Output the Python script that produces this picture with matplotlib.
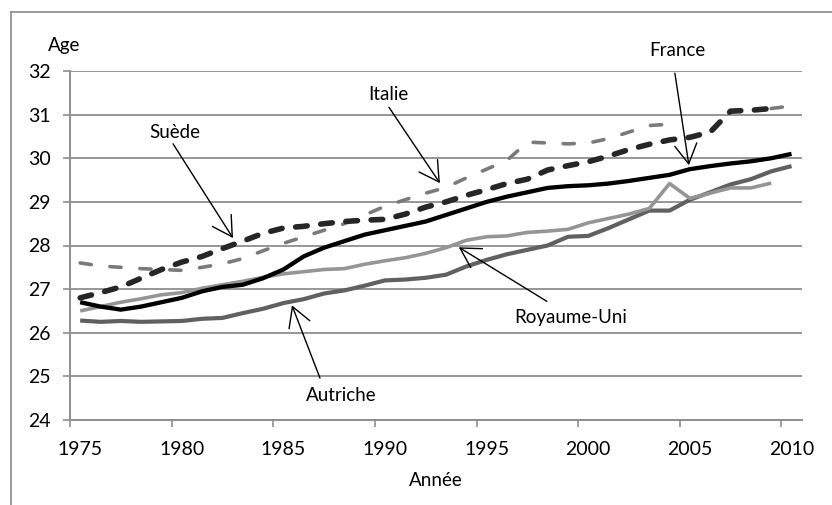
import matplotlib
matplotlib.use("Agg")
import matplotlib.pyplot as plt
import numpy as np
from matplotlib.lines import Line2D

# ── Data (mean age of mothers at birth) ──
YEARS = list(range(1975, 2011))

FRANCE = [26.70, 26.60, 26.53, 26.60, 26.70, 26.80, 26.95, 27.05, 27.10, 27.25,
          27.45, 27.75, 27.95, 28.10, 28.25, 28.35, 28.45, 28.55, 28.70, 28.85,
          29.00, 29.12, 29.22, 29.32, 29.36, 29.38, 29.42, 29.48, 29.55, 29.62,
          29.75, 29.82, 29.88, 29.93, 30.00, 30.10]

SUEDE = [26.80, 26.92, 27.05, 27.25, 27.45, 27.62, 27.75, 27.93, 28.10, 28.28,
         28.40, 28.44, 28.50, 28.55, 28.58, 28.60, 28.72, 28.88, 29.00, 29.15,
         29.28, 29.42, 29.52, 29.73, 29.83, 29.92, 30.05, 30.20, 30.32, 30.42,
         30.48, 30.60, 31.08, 31.10, 31.14, np.nan]

ITALIE = [27.60, 27.53, 27.50, 27.47, 27.45, 27.43, 27.50, 27.58, 27.70, 27.88,
          28.05, 28.20, 28.35, 28.50, 28.70, 28.90, 29.05, 29.20, 29.33, 29.55,
          29.75, 29.95, 30.37, 30.35, 30.33, 30.35, 30.45, 30.60, 30.75, 30.78,
          np.nan, np.nan, np.nan, np.nan, 31.14, 31.20]

ROYAUME_UNI = [26.50, 26.60, 26.70, 26.78, 26.87, 26.92, 27.02, 27.10, 27.18, 27.27,
               27.35, 27.40, 27.45, 27.47, 27.57, 27.65, 27.72, 27.82, 27.95, 28.12,
               28.20, 28.22, 28.30, 28.33, 28.37, 28.52, 28.62, 28.72, 28.85, 29.42,
               29.08, 29.20, 29.32, 29.32, 29.43, np.nan]

AUTRICHE = [26.28, 26.25, 26.27, 26.25, 26.26, 26.27, 26.32, 26.34, 26.45, 26.55,
            26.68, 26.77, 26.90, 26.97, 27.08, 27.20, 27.22, 27.26, 27.33, 27.52,
            27.67, 27.80, 27.90, 28.00, 28.20, 28.22, 28.40, 28.60, 28.80, 28.80,
            29.05, 29.22, 29.40, 29.52, 29.70, 29.82]

Y_TICKS = [24, 25, 26, 27, 28, 29, 30, 31, 32]
X_TICKS = [1975, 1980, 1985, 1990, 1995, 2000, 2005, 2010]

# label text, text position, arrow start, arrow tip
LABELS = [
    ("Suède", (1980.16, 30.58), (1980.07, 30.33), (1983.02, 28.17)),
    ("Italie", (1990.64, 31.47), (1990.69, 31.17), (1993.20, 29.43)),
    ("France", (2004.86, 32.48), (2004.76, 31.95), (2005.45, 29.84)),
    ("Royaume-Uni", (1999.64, 26.36), (1998.46, 26.72), (1994.13, 27.96)),
    ("Autriche", (1988.35, 24.57), (1987.30, 24.96), (1985.92, 26.63)),
]

# ── Style ──
plt.rcParams["font.family"] = ["Lato", "DejaVu Sans"]
TICK_SIZE = 14
LABEL_SIZE = 13.5
GRID_COLOR = "#8e8e8e"
CAT_OFFSET = 0.5  # Excel category axis: points and labels sit mid-category

fig = plt.figure(figsize=(8.32, 5.05), dpi=100)
ax = fig.add_axes([70 / 832, 1 - 420 / 505, (801.7 - 70) / 832, (420 - 71) / 505])

x = np.array(YEARS) + CAT_OFFSET

ax.plot(x, AUTRICHE, color="#606060", lw=3.0, solid_capstyle="butt", zorder=3)
ax.plot(x, ROYAUME_UNI, color="#959595", lw=2.6, solid_capstyle="butt", zorder=3)
ax.plot(x, ITALIE, color="#7a7a7a", lw=2.6, linestyle=(0, (3.1, 5.2)),
        dash_capstyle="round", zorder=3)
ax.plot(x, FRANCE, color="#000000", lw=3.1, solid_capstyle="butt", zorder=4)
ax.plot(x, SUEDE, color="#262626", lw=4.0, linestyle=(0, (2.1, 2.45)),
        dash_capstyle="round", zorder=5)

ax.set_xlim(1975, 2011)
ax.set_ylim(24, 32)
ax.set_yticks(Y_TICKS)
# tick marks on the category boundaries, labels centred on the category
ax.set_xticks(X_TICKS)
ax.set_xticklabels([])
ax.set_xticks(np.array(X_TICKS) + CAT_OFFSET, minor=True)
ax.set_xticklabels([str(y) for y in X_TICKS], minor=True)
ax.tick_params(axis="y", length=5, width=1.2, color=GRID_COLOR, pad=9,
               labelsize=TICK_SIZE)
ax.tick_params(axis="x", which="major", length=5, width=1.2, color=GRID_COLOR)
ax.tick_params(axis="x", which="minor", length=0, pad=15, labelsize=TICK_SIZE)
ax.grid(axis="y", color=GRID_COLOR, lw=1.3)
ax.set_axisbelow(True)
for side in ("top", "right"):
    ax.spines[side].set_visible(False)
for side in ("left", "bottom"):
    ax.spines[side].set_color(GRID_COLOR)
    ax.spines[side].set_linewidth(1.4)

for text, pos, start, tip in LABELS:
    ax.text(pos[0], pos[1], text, ha="center", va="center", fontsize=LABEL_SIZE)
    ax.annotate("", xy=tip, xytext=start,
                arrowprops=dict(arrowstyle="->,head_length=1.4,head_width=0.8",
                                color="black", lw=1.0, shrinkA=0, shrinkB=0,
                                mutation_scale=10),
                zorder=6)

fig.text(64 / 832, 1 - 45 / 505, "Age", ha="center", va="center", fontsize=LABEL_SIZE)
fig.text(435.5 / 832, 1 - 481 / 505, "Année", ha="center", va="center",
         fontsize=LABEL_SIZE)

# outer frame (only left and top edges are visible in the source)
fig.add_artist(Line2D([11 / 832, 11 / 832], [0, 1 - 12 / 505],
                      transform=fig.transFigure, color="#8a8a8a", lw=1.2))
fig.add_artist(Line2D([11 / 832, 1], [1 - 12 / 505, 1 - 12 / 505],
                      transform=fig.transFigure, color="#8a8a8a", lw=1.2))

fig.savefig("out.png", dpi=100)
